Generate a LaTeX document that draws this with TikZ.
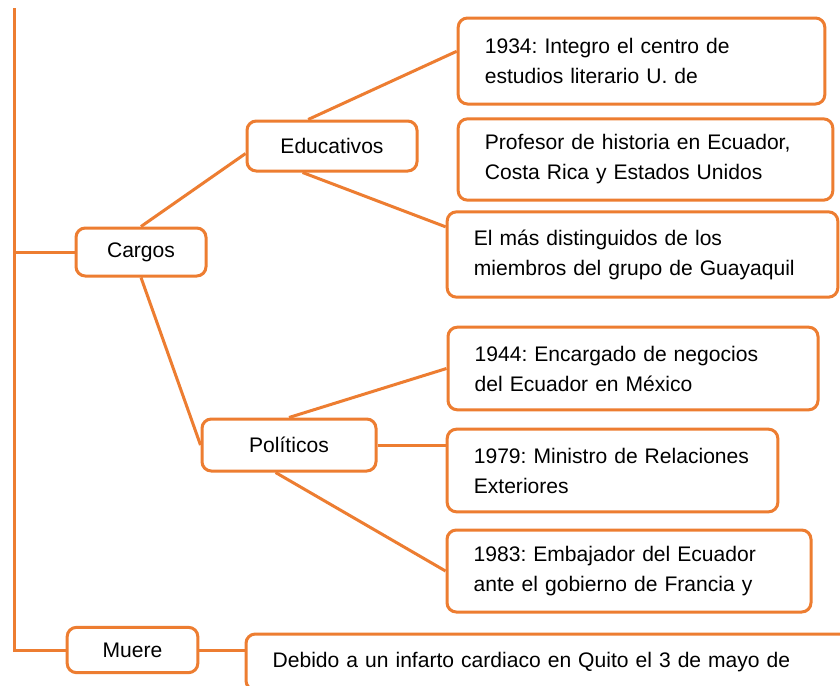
\documentclass[tikz,border=0pt]{standalone}
\usepackage{fontspec}
\setmainfont{Liberation Sans}
\usepackage{tikz}
\frenchspacing
\hyphenpenalty=10000
\definecolor{maporange}{RGB}{237, 125, 49}
\tikzset{%
    topic/.style={%
        draw=maporange, line width=2.25pt, rounded corners=7pt,
        fill=white, align=center, inner sep=0pt,
        font=\fontsize{15.8}{22.5}\selectfont
    },
    detail/.style={%
        topic, align=left, inner xsep=20pt
    },
    branch/.style={%
        draw=maporange, line width=2.25pt
    }
}

\begin{document}
\begin{tikzpicture}[x=0.75pt, y=-0.75pt]

    \fill[white] (0, 0) rectangle (840, 686);
    \useasboundingbox (0, 0) rectangle (840, 686);
    \clip (0, 0) rectangle (840, 686);

    % Main topics
    \coordinate (trunk) at (14, 8);
    \node[topic, minimum width=97.5pt, minimum height=36pt]
        (cargos) at (141, 252) {Cargos};
    \node[topic, minimum width=127.5pt, minimum height=37.5pt]
        (educ) at (332, 146) {Educativos};
    \node[topic, minimum width=130.5pt, minimum height=39pt]
        (polit) at (289, 445) {Políticos};
    \node[topic, minimum width=98pt, minimum height=34pt]
        (muere) at (132.5, 650) {Muere};

    % Educational posts
    \node[detail, text width=235pt, minimum width=275pt, minimum height=64.5pt]
        (edu1) at (641.5, 61)
        {1934: Integro el centro de\\ estudios literario U. de};
    \node[detail, text width=241pt, minimum width=281pt, minimum height=61pt]
        (edu2) at (645.5, 159.5)
        {Profesor de historia en Ecuador,\\ Costa Rica y Estados Unidos};
    \node[detail, text width=253pt, minimum width=293pt, minimum height=64pt]
        (edu3) at (642.5, 254.5)
        {El más distinguidos de los\\ miembros del grupo de Guayaquil};

    % Political posts
    \node[detail, text width=237.5pt, minimum width=277.5pt, minimum height=62pt]
        (pol1) at (633, 368.5)
        {1944: Encargado de negocios\\ del Ecuador en México};
    \node[detail, text width=208pt, minimum width=248pt, minimum height=62pt]
        (pol2) at (612.5, 470.5)
        {1979: Ministro de Relaciones\\ Exteriores};
    \node[detail, text width=233pt, minimum width=273pt, minimum height=61.5pt]
        (pol3) at (629, 571)
        {1983: Embajador del Ecuador\\ ante el gobierno de Francia y};

    % Death
    \node[detail, text width=416pt, minimum width=456pt, minimum height=42pt]
        (death) at (550, 662)
        {Debido a un infarto cardiaco en Quito el 3 de mayo de};

    \draw[branch] (trunk) -- (trunk |- muere.west) -- (muere.west);
    \draw[branch] (trunk |- cargos.west) -- (cargos.west);
    \draw[branch] (cargos.north) -- (educ.185);
    \draw[branch] (educ.132) -- (edu1.177);
    \draw[branch] (educ.222) -- (edu3.172);
    \draw[branch] (cargos.south) -- (polit.west);
    \draw[branch] (polit.north) -- (pol1.west);
    \draw[branch] (polit.east) -- (polit.east -| pol2.west);
    \draw[branch] (polit.244) -- (pol3.west);
    \draw[branch] (muere.east) -- (muere.east -| death.west);

\end{tikzpicture}
\end{document}
